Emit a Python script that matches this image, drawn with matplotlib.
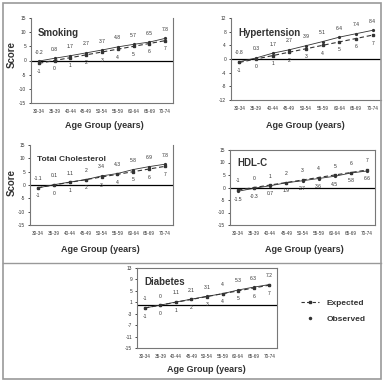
import matplotlib
matplotlib.use("Agg")
import matplotlib.pyplot as plt
from matplotlib.lines import Line2D
from matplotlib.patches import Rectangle

plt.rcParams["font.family"] = ["Liberation Sans", "DejaVu Sans"]

age_groups = ["30-34", "35-39", "40-44", "45-49", "50-54", "55-59", "60-64", "65-69", "70-74"]
expected = [-1, 0, 1, 2, 3, 4, 5, 6, 7]

smoking = [-0.2, 0.8, 1.7, 2.7, 3.7, 4.8, 5.7, 6.5, 7.8]
hypertension = [-0.8, 0.3, 1.7, 2.7, 3.9, 5.1, 6.4, 7.4, 8.4]
cholesterol = [-1.1, 0.1, 1.1, 2, 3.4, 4.3, 5.8, 6.9, 7.8]
hdl = [-1.5, -0.3, 0.7, 1.9, 2.7, 3.6, 4.5, 5.8, 6.6]
diabetes = [-1, 0, 1.1, 2.1, 3.1, 4, 5.3, 6.3, 7.2]

W, H = 384, 382
fig = plt.figure(figsize=(W / 100, H / 100), dpi=100)


def px_axes(l, t, r, b):
    return fig.add_axes([l / W, 1 - b / H, (r - l) / W, (b - t) / H])


# title, title size, observed, panel box (px), y ticks, spines, observed labels on top?
panels = [
    ("Smoking", 7, smoking, (31, 18, 173, 103), list(range(-15, 16, 5)), ["left", "right", "bottom"], True),
    ("Hypertension", 7, hypertension, (231, 18, 381, 100), list(range(-12, 13, 4)), ["left", "bottom"], True),
    ("Total Cholesterol", 6, cholesterol, (30, 145, 173, 225), list(range(-15, 16, 5)), ["left", "right", "bottom"], True),
    ("HDL-C", 7, hdl, (230, 150, 375, 225), list(range(-15, 16, 5)), ["left", "right", "bottom", "top"], False),
    ("Diabetes", 7, diabetes, (137, 268, 277, 348), list(range(-15, 14, 4)), ["left", "right", "bottom", "top"], True),
]

x = list(range(len(age_groups)))
for title, tsize, obs, box, yt, spines, obs_top in panels:
    ax = px_axes(*box)
    ax.set_xlim(-0.5, len(age_groups) - 0.5)
    ax.set_ylim(yt[0], yt[-1])
    ax.set_yticks(yt)
    ax.set_yticklabels([str(v) for v in yt], fontsize=3.5, color="#333333")
    ax.set_xticks(x)
    ax.set_xticklabels(age_groups, fontsize=3.3, color="#333333")
    ax.tick_params(axis="x", length=0, pad=4)
    ax.tick_params(axis="y", length=1.5, width=0.5, pad=2)
    for s in ax.spines:
        ax.spines[s].set_visible(s in spines)
        ax.spines[s].set_color("#777777")
        ax.spines[s].set_linewidth(0.8)
    ax.axhline(0, color="black", lw=0.9, zorder=1)

    ax.plot(x, obs, color="#333333", lw=0.6, marker="o", ms=1.3, zorder=3)
    ax.plot(x, expected, color="#333333", lw=0.8, ls=(0, (4, 2.5)),
            marker="s", ms=2.0, zorder=3)

    top_vals, bot_vals = (obs, expected) if obs_top else (expected, obs)
    for xi, v in zip(x, top_vals):
        ax.annotate(f"{v:g}", (xi, v), xytext=(0, 9), textcoords="offset pixels",
                    ha="center", va="center", fontsize=3.6, color="#333333")
    for xi, v in zip(x, bot_vals):
        ax.annotate(f"{v:g}", (xi, v), xytext=(0, -8), textcoords="offset pixels",
                    ha="center", va="center", fontsize=3.6, color="#333333")

    ax.text(0.05, 0.82, title, transform=ax.transAxes, fontsize=tsize,
            fontweight="bold", color="#333333", ha="left", va="center")

# axis labels
for cx, cy in [(104, 125), (305, 125), (100, 250), (304, 250), (206, 370)]:
    fig.text(cx / W, 1 - cy / H, "Age Group (years)", fontsize=6.5, fontweight="bold",
             color="#333333", ha="center", va="center")
for cy in [55, 182]:
    fig.text(12 / W, 1 - cy / H, "Score", fontsize=7, fontweight="bold",
             color="#333333", ha="center", va="center", rotation=90)

# legend
handles = [
    Line2D([], [], color="#333333", lw=0.8, ls=(0, (3, 2)), marker="s", ms=2.0),
    Line2D([], [], color="#333333", lw=0, marker="o", ms=1.5),
]
leg = fig.legend(handles, ["Expected", "Observed"], loc="center left",
                 bbox_to_anchor=(293 / W, 1 - 311 / H), frameon=False,
                 prop={"size": 6, "weight": "bold"}, handlelength=2.2,
                 handletextpad=0.9, labelspacing=1.0)
for t in leg.get_texts():
    t.set_color("#333333")

# frame and separator
fig.add_artist(Rectangle((3 / W, 3 / H), (W - 6) / W, (H - 6) / H, transform=fig.transFigure,
                         fill=False, edgecolor="#999999", lw=1.2))
fig.add_artist(Line2D([3 / W, (W - 3) / W], [1 - 263 / H, 1 - 263 / H],
                      transform=fig.transFigure, color="#999999", lw=1.0))

fig.savefig("out.png", dpi=100)
